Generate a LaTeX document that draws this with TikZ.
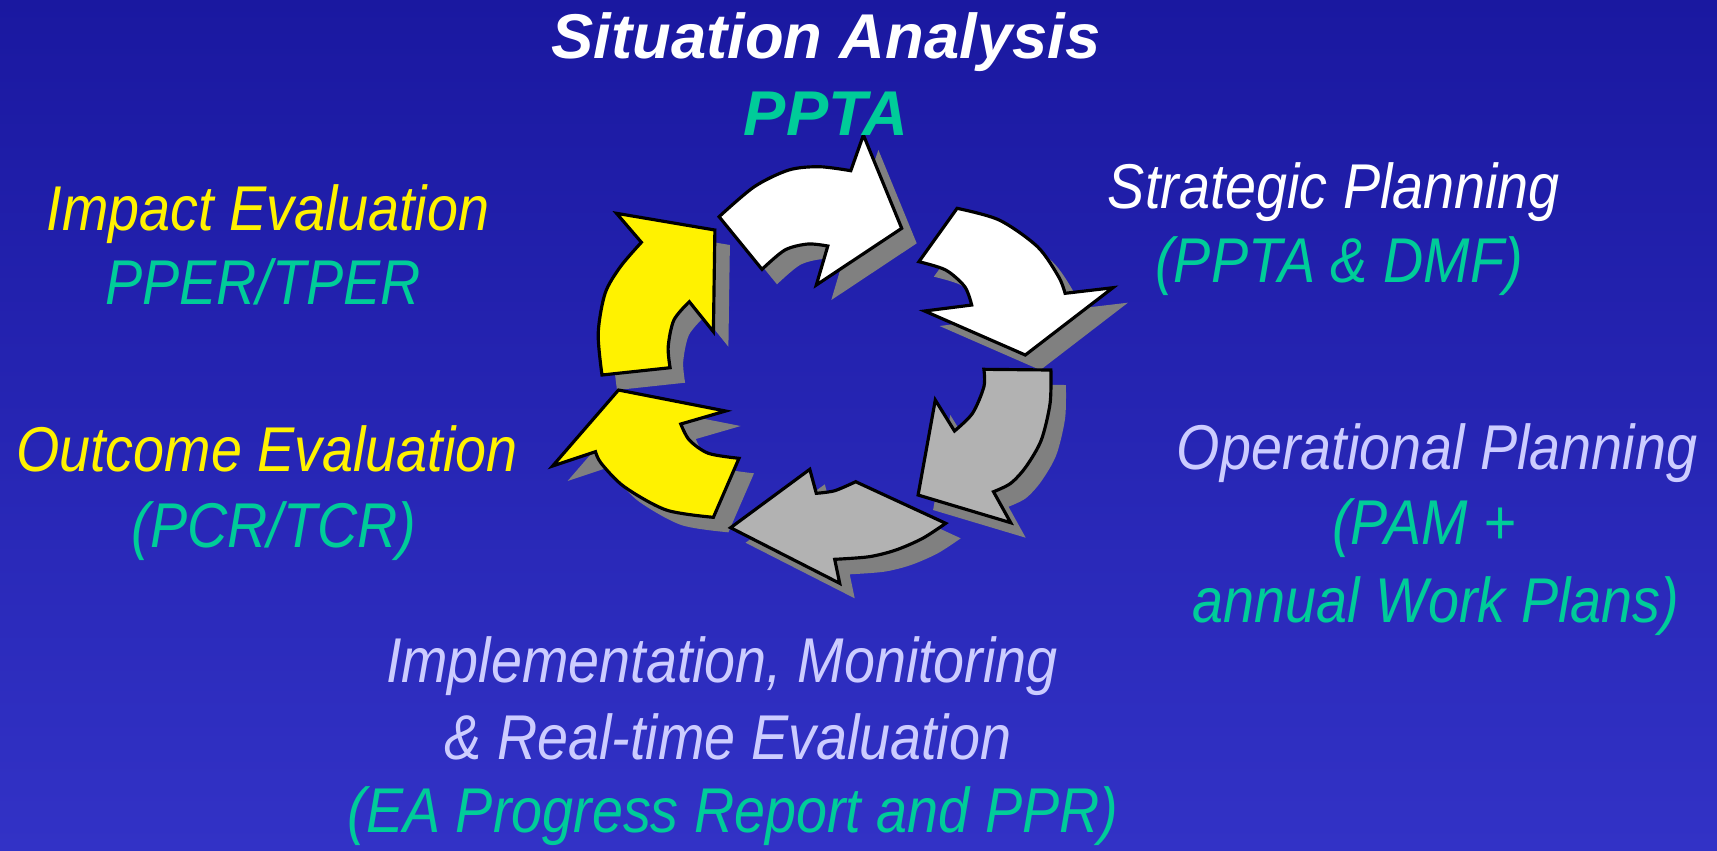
\documentclass[tikz,border=0pt]{standalone}
\usepackage{fontspec}
\setmainfont{Liberation Sans}
\newfontfamily\narrowfont{Liberation Sans}[FakeStretch=0.88]
\definecolor{bgtop}{RGB}{26,24,160}
\definecolor{bgbot}{RGB}{50,50,198}
\definecolor{ygreen}{RGB}{0,204,153}
\definecolor{lav}{RGB}{204,204,255}
\definecolor{arrgray}{RGB}{178,178,178}
\definecolor{shadowgray}{RGB}{128,128,128}
\newcommand\ArrA{(719.1,216.7) -- plot[smooth] coordinates {(719.1,216.7) (754.3,186.7) (788.8,170) (819.4,166.7) (850.8,170.7)} -- (863.4,135) -- (901.7,228.3) -- (816.3,285) -- (827.8,246) -- plot[smooth] coordinates {(827.8,246) (807.9,244) (784.9,250) (762,269.3)} -- cycle}
\newcommand\ArrB{(957.1,208.3) -- plot[smooth] coordinates {(957.1,208.3) (999.2,220) (1037.5,246.7) (1058.6,276.7) (1065.1,293.3)} -- (1112.9,287.7) -- (1025.3,355) -- (924.6,311) -- (971.7,305) -- plot[smooth] coordinates {(971.7,305) (964.8,286.7) (945.7,270) (918.9,261.7)} -- cycle}
\newcommand\ArrC{(1050.9,370) -- plot[smooth] coordinates {(1050.9,370) (1050.1,403.3) (1041.3,440) (1026,466.7) (1010.7,483.3) (993.5,491.7)} -- (1010.7,522.7) -- (918.1,495) -- (935.3,400) -- (954.5,431) -- plot[smooth] coordinates {(954.5,431) (972.5,413.3) (983.9,386.7) (983.9,369.3)} -- cycle}
\newcommand\ArrD{(945.7,523.3) -- plot[smooth] coordinates {(945.7,523.3) (922.7,538.3) (895.9,550) (869.1,556.7) (834.7,559.3)} -- (839.7,583.3) -- (730.6,527.7) -- (809.8,469.3) -- (816.3,493.3) -- plot[smooth] coordinates {(816.3,493.3) (834.7,490.7) (855.7,481.7)} -- cycle}
\newcommand\ArrE{(713.4,517.3) -- plot[smooth] coordinates {(713.4,517.3) (666.3,510) (624.2,486.7) (601.2,463.3) (595.5,451.7)} -- (552.6,466) -- (618.5,390) -- (725.6,411) -- (680.8,424) -- plot[smooth] coordinates {(680.8,424) (689.3,440) (708.4,453.3) (739,458.3)} -- cycle}
\newcommand\ArrF{(602,375) -- plot[smooth] coordinates {(602,375) (598.2,333.3) (605.1,293.3) (620.4,266.7) (641.4,242.3)} -- (616.5,213.3) -- (714.9,230) -- (713.4,331.7) -- (689.3,301.7) -- plot[smooth] coordinates {(689.3,301.7) (673.9,320) (668.2,346.7) (670.1,367.7)} -- cycle}
\begin{document}
\begin{tikzpicture}[x=0.01cm,y=-0.01cm,
  shadowstyle/.style={fill=shadowgray,shift={(15,15)}},
  arrstyle/.style={draw=black,line width=0.9pt,line join=miter},
  titletext/.style={anchor=base,inner sep=0pt,font=\fontsize{18}{21}\selectfont\bfseries\itshape},
  labeltext/.style={anchor=base,inner sep=0pt,font=\narrowfont\fontsize{18}{21}\selectfont\itshape}]
\useasboundingbox (0,0) rectangle (1717,850);
\shade[top color=bgtop,bottom color=bgbot] (0,0) rectangle (1717,850);
% shadows
\fill[shadowstyle] \ArrA;
\fill[shadowstyle] \ArrB;
\fill[shadowstyle] \ArrC;
\fill[shadowstyle] \ArrD;
\fill[shadowstyle] \ArrE;
\fill[shadowstyle] \ArrF;
% arrows
\filldraw[arrstyle,fill=white] \ArrA;
\filldraw[arrstyle,fill=white] \ArrB;
\filldraw[arrstyle,fill=arrgray] \ArrC;
\filldraw[arrstyle,fill=arrgray] \ArrD;
\filldraw[arrstyle,fill=yellow] \ArrE;
\filldraw[arrstyle,fill=yellow] \ArrF;
% texts
\node[titletext,text=white] (sit) at (826,58) {Situation Analysis};
\node[titletext,text=ygreen] (ppta) at (826,135) {PPTA};
\node[labeltext,text=yellow] (imp) at (268,230) {Impact Evaluation};
\node[labeltext,text=ygreen] (pper) at (263,304) {PPER/TPER};
\node[labeltext,text=white] (strat) at (1334,208) {Strategic Planning};
\node[labeltext,text=ygreen] (dmf) at (1339,282) {(PPTA \& DMF)};
\node[labeltext,text=yellow] (out) at (267,471) {Outcome Evaluation};
\node[labeltext,text=ygreen] (pcr) at (274,547) {(PCR/TCR)};
\node[labeltext,text=lav] (oper) at (1437,469) {Operational Planning};
\node[labeltext,text=ygreen] (pam) at (1424,544) {(PAM +};
\node[labeltext,text=ygreen] (awp) at (1436,622) {annual Work Plans)};
\node[labeltext,text=lav] (impl) at (722,682) {Implementation, Monitoring};
\node[labeltext,text=lav] (real) at (728,759) {\& Real-time Evaluation};
\node[labeltext,text=ygreen] (ea) at (733,832) {(EA Progress Report and PPR)};
\end{tikzpicture}
\end{document}
